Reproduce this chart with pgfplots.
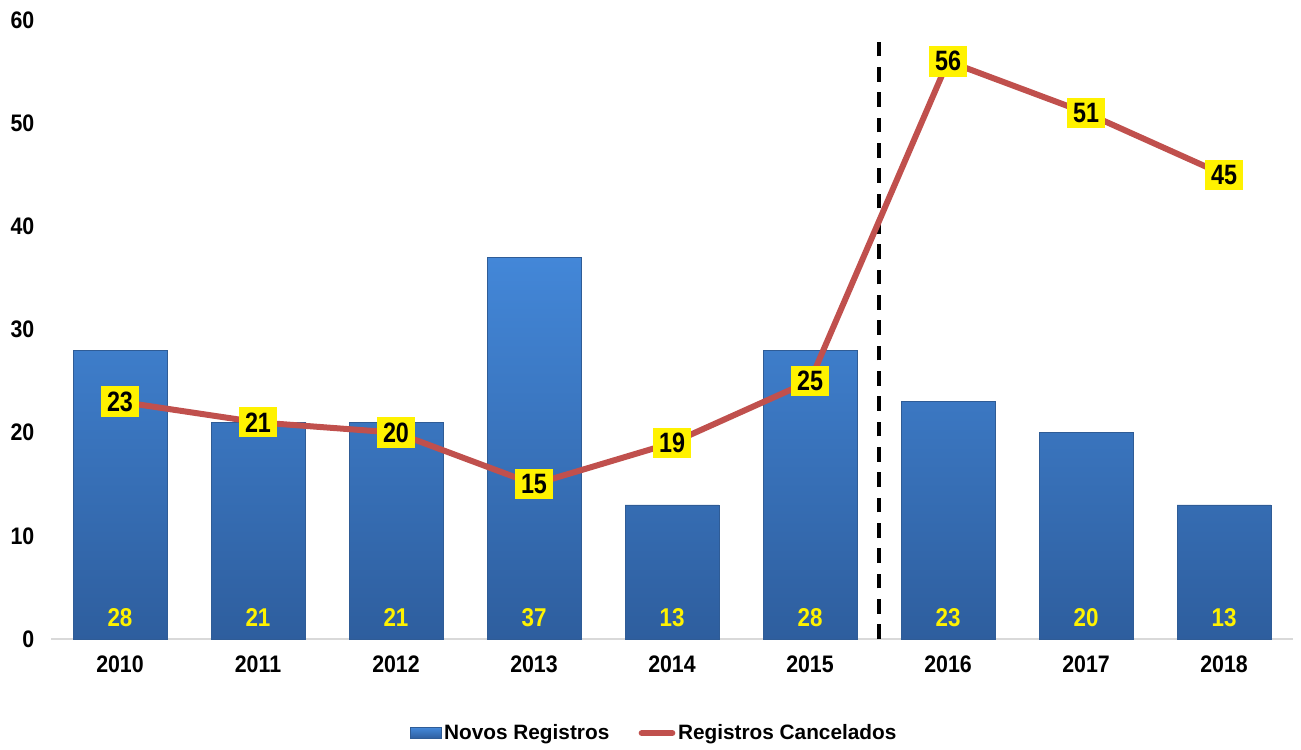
\documentclass[border=0pt]{standalone}
\usepackage{pgfplots}
\pgfplotsset{compat=1.18}
\usepackage{pgfplotstable}
\usepackage{fontspec}
\setmainfont{Liberation Sans}
\definecolor{barTop}{HTML}{4387D8}
\definecolor{barBot}{HTML}{2E5E9E}
\definecolor{barEdge}{HTML}{2F5C96}
\definecolor{lineRed}{HTML}{C0504D}
\definecolor{axisGray}{HTML}{D9D9D9}

\pgfplotstableread{
year novos canc lab
2010 28 23 2.1
2011 21 21 2.1
2012 21 20 2.1
2013 37 15 2.1
2014 13 19 2.1
2015 28 25 2.1
2016 23 56 2.1
2017 20 51 2.1
2018 13 45 2.1
}\data

\begin{document}
\begin{tikzpicture}
\path[use as bounding box] (-38.25pt,-82.5pt) rectangle (937.5pt,479.25pt);
\begin{axis}[
  scale only axis,
  width=931.5pt, height=464.25pt,
  xmin=2009.5, xmax=2018.5,
  ymin=0, ymax=60,
  ytick={0,10,...,60},
  xtick=data,
  axis x line=bottom,
  axis y line=left,
  x axis line style={-, draw=axisGray, line width=1.2pt},
  y axis line style={draw=none},
  major tick length=0pt,
  /pgf/number format/assume math mode=true,
  /pgf/number format/1000 sep={},
  tick label style={font=\fontsize{16}{18}\selectfont\bfseries},
  xticklabel={\scalebox{1}[1.12]{\pgfmathprintnumber{\tick}}},
  yticklabel={\scalebox{1}[1.12]{\pgfmathprintnumber{\tick}}},
  xticklabel style={yshift=-9pt},
  yticklabel style={xshift=-9pt},
  legend style={draw=none, fill=none,
    at={(axis description cs:0.486,-0.152)}, anchor=center,
    font=\fontsize{15.6}{18}\selectfont\bfseries,
    legend columns=2,
    /tikz/every even column/.append style={column sep=20pt},
    inner sep=0pt},
  clip=false,
]
\addplot[ybar, bar width=0.68, bar shift=0pt,
  top color=barTop, bottom color=barBot, draw=barEdge, line width=0.5pt,
  legend image code/.code={\draw[top color=barTop, bottom color=barBot, draw=barEdge] (0pt,-4pt) rectangle (23pt,4pt);}]
  table[x=year, y=novos] {\data};
\addlegendentry{Novos Registros}

% bar value labels
\addplot[draw=none, mark=none, forget plot,
  point meta=explicit symbolic,
  nodes near coords={\scalebox{1}[1.15]{\pgfplotspointmeta}},
  nodes near coords align=center,
  every node near coord/.append style={anchor=center, text=yellow,
    font=\fontsize{16.8}{18}\selectfont\bfseries}]
  table[x=year, y=lab, meta=novos] {\data};

% dashed separator
\addplot[black, line width=3pt, dash pattern=on 11pt off 8pt, forget plot]
  coordinates {(2015.5,0) (2015.5,58.8)};

\addplot[lineRed, line width=4.5pt, line cap=round, line join=round, mark=none,
  point meta=explicit symbolic,
  nodes near coords={\scalebox{1}[1.2]{\pgfplotspointmeta}},
  nodes near coords align=center,
  every node near coord/.append style={anchor=center, fill=yellow, text=black,
    inner xsep=4.5pt, inner ysep=4pt,
    font=\fontsize{17.5}{18}\selectfont\bfseries},
  legend image code/.code={\draw[lineRed, line width=4.5pt, line cap=round] (0pt,0pt) -- (23pt,0pt);}]
  table[x=year, y=canc, meta=canc] {\data};
\addlegendentry{Registros Cancelados}
\end{axis}
\end{tikzpicture}
\end{document}
